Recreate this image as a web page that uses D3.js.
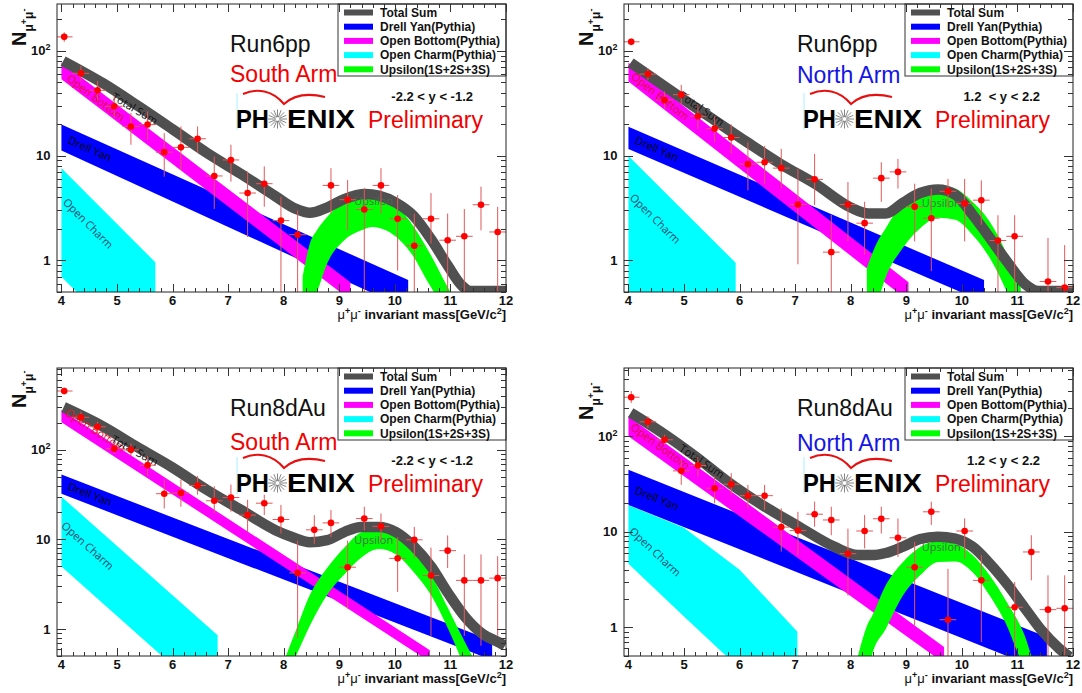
<!DOCTYPE html>
<html>
<head>
<meta charset="utf-8">
<script src="https://cdn.jsdelivr.net/npm/d3@7"></script>
<style>
  body { margin: 0; background: #fff; }
  svg text { font-family: "Liberation Sans", Arial, sans-serif; }
</style>
</head>
<body>
<svg id="chart" width="1082" height="693"></svg>
<script>
// ---- axis ticks / legend ----
var massTicks = [4, 5, 6, 7, 8, 9, 10, 11, 12];
var countTicks = [1, 10, 100];
var legendNames = ['Total Sum', 'Drell Yan(Pythia)', 'Open Bottom(Pythia)', 'Open Charm(Pythia)', 'Upsilon(1S+2S+3S)'];

// ---- Run6pp South arm ----  bands: [mass, low, high], total: [mass, value], points: [mass, value, errLow, errHigh]
var charm6S = [[4.0, 0.70, 7.6], [5.69, 0.088, 0.96]];
var dy6S = [[4.0, 11.2, 19.8], [10.24, 0.34, 0.65]];
var bottom6S = [[4.0, 53.5, 78], [9.2, 0.42, 0.62]];
var ups6S = [[8.34, 0.2, 0.7], [8.47, 0.36, 1.45], [8.6, 0.5, 1.95], [8.78, 0.93, 2.6], [9.09, 1.56, 3.76], [9.4, 1.94, 4.5], [9.6, 2.09, 4.6], [9.84, 1.94, 4.2], [10.09, 1.56, 3.1], [10.34, 1.08, 2.1], [10.58, 0.64, 1.3], [10.7, 0.5, 1.0], [10.85, 0.32, 0.7], [11.0, 0.22, 0.5]];
var total6S = [[4.03, 80], [4.75, 49], [5.37, 30], [5.99, 18], [6.61, 10.7], [7.23, 6.7], [7.85, 4.1], [8.22, 3.1], [8.47, 2.85], [8.78, 3.2], [9.09, 3.85], [9.47, 4.3], [9.71, 4.15], [10.02, 3.55], [10.34, 2.65], [10.65, 1.6], [10.96, 0.88], [11.2, 0.58], [11.36, 0.51], [12.0, 0.51]];
var points6S = [[4.05, 136, 122, 150], [4.35, 61, 51.5, 71.8], [4.65, 42, 34.4, 51.5], [4.95, 29.6, 23, 37], [5.25, 19, 12.7, 25.5], [5.55, 19.8, 14.2, 26.5], [5.85, 10.8, 6.3, 16.4], [6.15, 12, 7.3, 19], [6.45, 14.5, 10.6, 19], [6.75, 6.4, 3.1, 9.8], [7.05, 9.1, 5.65, 12.7], [7.35, 4.4, 1.67, 7.06], [7.65, 5.4, 3.25, 7.9], [7.95, 2.4, 0.4, 4.05], [8.25, 1.76, 0.4, 3.0], [8.85, 5.2, 2.8, 7.6], [9.15, 3.8, 1.94, 5.86], [9.45, 3.06, 0.4, 4.9], [9.75, 5.2, 2.8, 7.6], [10.05, 2.5, 0.8, 4.2], [10.35, 1.38, 0.4, 2.8], [10.65, 2.5, 1.45, 4.4], [10.95, 1.56, 0.4, 2.8], [11.25, 1.7, 0.4, 3.1], [11.55, 3.4, 1.94, 5.06], [11.85, 1.87, 0.4, 3.25]];

// ---- Run6pp North arm ----
var charm6N = [[4.0, 0.45, 9.9], [5.93, 0.045, 0.95]];
var dy6N = [[4.0, 11.6, 18.9], [10.4, 0.4, 0.65]];
var bottom6N = [[4.0, 51, 77], [9.04, 0.41, 0.62]];
var ups6N = [[8.29, 0.2, 0.85], [8.45, 0.35, 1.4], [8.63, 0.69, 2.03], [8.94, 1.32, 3.63], [9.25, 2.03, 4.85], [9.57, 2.56, 5.2], [9.88, 2.44, 4.85], [10.19, 1.76, 3.63], [10.5, 1.06, 2.35], [10.81, 0.5, 1.14], [10.95, 0.33, 0.75], [11.06, 0.25, 0.55]];
var total6N = [[4.04, 77], [4.89, 37.5], [5.51, 22.5], [6.13, 13.5], [6.76, 8.2], [7.38, 5.3], [8.0, 3.2], [8.32, 2.8], [8.63, 2.8], [8.94, 3.55], [9.25, 4.4], [9.57, 4.75], [9.88, 4.25], [10.19, 2.75], [10.5, 1.65], [10.81, 0.98], [11.13, 0.6], [11.38, 0.51], [12.0, 0.51]];
var points6N = [[4.05, 122, 113, 131], [4.35, 60, 52.9, 68], [4.65, 34, 28, 41], [4.95, 38.2, 30.7, 47.4], [5.25, 23.8, 17.9, 30.7], [5.55, 18.1, 13.4, 23.8], [5.85, 14.9, 10.4, 19.9], [6.15, 8.3, 4.67, 13.4], [6.45, 8.65, 5.4, 12.4], [6.75, 7.6, 4.85, 11.6], [7.05, 3.42, 0.92, 7.5], [7.35, 5.94, 3.38, 10.4], [7.65, 1.2, 0.4, 2.72], [7.95, 3.42, 1.52, 5.6], [8.25, 2.27, 1.14, 3.63], [8.55, 6.1, 3.63, 8.65], [8.85, 7.0, 4.85, 9.3], [9.15, 3.26, 1.52, 5.4], [9.45, 2.53, 0.79, 4.85], [9.75, 4.57, 3.14, 6.0], [10.05, 3.5, 1.52, 6.0], [10.35, 3.76, 2.19, 5.8], [10.65, 1.55, 0.4, 2.7], [10.95, 1.7, 0.4, 2.7], [11.55, 0.63, 0.4, 1.64], [11.85, 0.55, 0.4, 1.4]];

// ---- Run8dAu South arm ----
var charm8S = [[4.0, 5.0, 30], [6.81, 0.14, 0.85]];
var dy8S = [[4.0, 32.4, 53], [11.75, 0.45, 0.74]];
var bottom8S = [[4.0, 204, 278], [10.63, 0.43, 0.58]];
var ups8S = [[8.04, 0.3, 0.5], [8.22, 0.5, 0.97], [8.47, 1.09, 2.4], [8.78, 2.4, 4.8], [9.09, 4.05, 8.1], [9.4, 6.3, 12.0], [9.71, 7.8, 13.2], [10.02, 6.8, 11.1], [10.33, 4.4, 7.5], [10.65, 2.4, 4.05], [10.96, 1.0, 1.69], [11.17, 0.5, 0.92], [11.27, 0.35, 0.7], [11.39, 0.25, 0.5]];
var total8S = [[4.04, 300], [4.75, 182], [5.37, 107], [5.99, 64], [6.61, 36], [7.23, 21.4], [7.85, 12.7], [8.16, 10.6], [8.47, 9.3], [8.78, 9.8], [9.09, 12.1], [9.4, 13.8], [9.71, 13.8], [10.02, 12.1], [10.33, 8.5], [10.65, 5.0], [10.96, 2.5], [11.27, 1.35], [11.58, 0.88], [11.89, 0.7], [11.98, 0.65]];
var points8S = [[4.05, 454, 416, 495], [4.35, 231, 198, 268], [4.65, 181, 152, 206], [4.95, 103, 90, 117], [5.25, 100, 85, 118], [5.55, 67.5, 51, 86], [5.85, 32.4, 22.2, 46.7], [6.15, 33, 23.2, 46.7], [6.45, 40, 31.6, 51], [6.75, 27, 19.5, 39.3], [7.05, 29.4, 20.4, 41], [7.35, 18.7, 12.1, 27.7], [7.65, 25.4, 18.7, 31.6], [7.95, 16.7, 11.6, 24.3], [8.25, 4.23, 0.8, 9.7], [8.55, 12.8, 8.9, 18.7], [8.85, 15.3, 10.6, 21.3], [9.15, 4.9, 1.69, 9.7], [9.45, 17.1, 12.6, 23.2], [9.75, 14, 9.7, 19.5], [10.05, 6.15, 2.6, 10.6], [10.35, 9.9, 6.3, 13.8], [10.65, 3.95, 0.84, 8.1], [10.95, 7.5, 4.8, 11.1], [11.25, 3.49, 0.84, 6.8], [11.55, 3.49, 0.65, 6.8], [11.85, 3.7, 0.84, 6.5]];

// ---- Run8dAu North arm ----
var charm8N = [[4.0, 4.64, 19], [5.0, 1.3, 11], [6.0, 0.37, 4.0], [7.04, 0.1, 0.9]];
var dy8N = [[4.0, 19.1, 44.6], [11.53, 0.34, 0.79]];
var bottom8N = [[4.0, 100, 162], [9.68, 0.42, 0.62]];
var ups8N = [[8.13, 0.2, 0.5], [8.32, 0.35, 1.13], [8.38, 0.5, 1.3], [8.63, 0.96, 2.75], [8.94, 2.15, 4.83], [9.25, 3.5, 6.95], [9.57, 4.83, 7.95], [9.88, 4.9, 7.5], [10.19, 3.8, 5.7], [10.5, 2.15, 3.5], [10.81, 1.04, 1.83], [11.03, 0.5, 1.1], [11.13, 0.38, 0.82], [11.25, 0.28, 0.5]];
var total8N = [[4.04, 177], [4.57, 113], [5.2, 62], [5.82, 32.4], [6.45, 18.4], [7.07, 11.3], [7.7, 7.0], [8.13, 5.7], [8.38, 5.7], [8.63, 6.0], [8.94, 7.0], [9.25, 8.4], [9.57, 8.9], [9.88, 8.5], [10.19, 7.0], [10.5, 4.65], [10.81, 2.85], [11.13, 1.6], [11.44, 0.92], [11.75, 0.6], [11.94, 0.49]];
var points8N = [[4.05, 257, 224, 298], [4.35, 142, 122, 162], [4.65, 92, 81.7, 104], [4.95, 43.5, 31, 56.8], [5.25, 49.5, 37.9, 61.5], [5.55, 28.6, 19.9, 37.9], [5.85, 31.5, 24.3, 41.1], [6.15, 23.9, 17.6, 31], [6.45, 23.9, 16.9, 31], [6.75, 11.2, 6.2, 17.6], [7.05, 10.3, 5.7, 16.2], [7.35, 15.3, 11.3, 20.7], [7.65, 13.3, 9.2, 18.3], [7.95, 5.9, 2.15, 10.8], [8.25, 10.2, 6.7, 15], [8.55, 13.7, 9.6, 18.3], [8.85, 8.65, 5.45, 13.8], [9.15, 4.25, 1.04, 7.85], [9.45, 16.2, 11.8, 20.7], [9.75, 1.2, 0.4, 4.1], [10.05, 10.2, 5.24, 13.8], [10.35, 3.1, 0.7, 5.7], [10.95, 1.62, 0.4, 2.98], [11.25, 6.15, 3.1, 9.2], [11.55, 1.53, 0.4, 3.5], [11.85, 1.58, 0.4, 3.5]];

var colors = { total: '#505050', dy: '#0000ff', bottom: '#ff00ff', charm: '#00ffff', ups: '#00ff00' };
var legendColors = [colors.total, colors.dy, colors.bottom, colors.charm, colors.ups];

var panels = [
  { left: 57, top: 4, ymax: 280, run: 'Run6pp', arm: 'South Arm', armColor: '#f20000', armY: 78, rap: '-2.2 < y < -1.2', titleY: 42,
    charm: charm6S, dy: dy6S, bottom: bottom6S, ups: ups6S, total: total6S, points: points6S,
    tags: { ob: [4.62, 35.6], ts: [5.32, 28], dy: [4.51, 11.6], oc: [4.48, 2.25], up: [9.62, 3.68] } },
  { left: 624, top: 4, ymax: 280, run: 'Run6pp', arm: 'North Arm', armColor: '#1414e6', armY: 79, rap: '1.2  < y < 2.2', titleY: 42,
    charm: charm6N, dy: dy6N, bottom: bottom6N, ups: ups6N, total: total6N, points: points6N,
    tags: { ob: [4.57, 36.8], ts: [5.32, 28], dy: [4.51, 11.6], oc: [4.48, 2.5], up: [9.63, 3.5] } },
  { left: 57, top: 368, ymax: 820, run: 'Run8dAu', arm: 'South Arm', armColor: '#f20000', armY: 82, rap: '-2.2 < y < -1.2', titleY: 40,
    charm: charm8S, dy: dy8S, bottom: bottom8S, ups: ups8S, total: total8S, points: points8S,
    tags: { ob: [4.61, 166], ts: [5.32, 98], dy: [4.51, 32], oc: [4.47, 8.5], up: [9.62, 9.9] } },
  { left: 624, top: 368, ymax: 520, run: 'Run8dAu', arm: 'North Arm', armColor: '#1414e6', armY: 83, rap: '1.2 < y < 2.2', titleY: 52,
    charm: charm8N, dy: dy8N, bottom: bottom8N, ups: ups8N, total: total8N, points: points8N,
    tags: { ob: [4.57, 78.5], ts: [5.32, 54.6], dy: [4.51, 22.4], oc: [4.48, 6.15], up: [9.63, 6.95] } }
];

var W = 449, H = 288;
var svg = d3.select('#chart');

panels.forEach(drawPanel);

function drawPanel(p, i) {
  var g = svg.append('g').attr('transform', 'translate(' + p.left + ',' + p.top + ')');
  var x = d3.scaleLinear().domain([3.92, 12]).range([0, W]);
  var y = d3.scaleLog().domain([0.5, p.ymax]).range([H, 0]);

  var cid = 'clip' + i;
  g.append('clipPath').attr('id', cid).append('rect').attr('width', W).attr('height', H);
  var plot = g.append('g').attr('clip-path', 'url(#' + cid + ')');

  var area = d3.area().x(function(d) { return x(d[0]); }).y0(function(d) { return y(d[1]); }).y1(function(d) { return y(d[2]); });
  var smoothArea = d3.area().x(function(d) { return x(d[0]); }).y0(function(d) { return y(d[1]); }).y1(function(d) { return y(d[2]); }).curve(d3.curveMonotoneX);

  plot.append('path').datum(p.charm).attr('fill', colors.charm).attr('d', area);
  plot.append('path').datum(p.dy).attr('fill', colors.dy).attr('d', area);
  plot.append('path').datum(p.bottom).attr('fill', colors.bottom).attr('d', area);
  plot.append('path').datum(p.ups).attr('fill', colors.ups).attr('d', smoothArea);
  plot.append('path').datum(p.total)
    .attr('fill', 'none').attr('stroke', colors.total).attr('stroke-width', 10.5)
    .attr('d', d3.line().x(function(d) { return x(d[0]); }).y(function(d) { return y(d[1]); }).curve(d3.curveMonotoneX));

  // band names, rotated along each band
  function slope(a, b) { return Math.atan2(b[1] - a[1], b[0] - a[0]) * 180 / Math.PI; }
  function px(d, k) { return [x(d[0]), y(d[k])]; }
  var last = function(arr) { return arr[arr.length - 1]; };
  var tags = [
    { txt: 'Open Bottom', pos: p.tags.ob, ang: slope(px(p.bottom[0], 2), px(last(p.bottom), 2)), col: '#e0102a' },
    { txt: 'Total Sum', pos: p.tags.ts, ang: slope([x(p.total[0][0]), y(p.total[0][1])], [x(p.total[2][0]), y(p.total[2][1])]), col: '#111' },
    { txt: 'Drell Yan', pos: p.tags.dy, ang: slope(px(p.dy[0], 2), px(last(p.dy), 2)), col: '#000' },
    { txt: 'Open Charm', pos: p.tags.oc, ang: slope(px(p.charm[0], 1), px(last(p.charm), 1)), col: '#24476b' },
    { txt: 'Upsilon', pos: p.tags.up, ang: 0, col: '#4a6e4a' }
  ];
  tags.forEach(function(t) {
    plot.append('text')
      .attr('transform', 'translate(' + x(t.pos[0]) + ',' + y(t.pos[1]) + ') rotate(' + t.ang + ')')
      .attr('text-anchor', 'middle').attr('dy', '0.35em')
      .attr('font-size', 11).attr('fill', t.col)
      .style('font-family', '"Open Sans", "Liberation Sans", sans-serif')
      .text(t.txt);
  });

  // data points with error bars
  var pts = plot.append('g');
  pts.selectAll('line.v').data(p.points).enter().append('line')
    .attr('x1', function(d) { return x(d[0]); }).attr('x2', function(d) { return x(d[0]); })
    .attr('y1', function(d) { return y(d[2]); }).attr('y2', function(d) { return y(d[3]); })
    .attr('stroke', '#e2585a').attr('stroke-width', 1);
  pts.selectAll('line.h').data(p.points).enter().append('line')
    .attr('x1', function(d) { return x(d[0] - 0.15); }).attr('x2', function(d) { return x(d[0] + 0.15); })
    .attr('y1', function(d) { return y(d[1]); }).attr('y2', function(d) { return y(d[1]); })
    .attr('stroke', '#e2585a').attr('stroke-width', 1);
  pts.selectAll('circle').data(p.points).enter().append('circle')
    .attr('cx', function(d) { return x(d[0]); }).attr('cy', function(d) { return y(d[1]); })
    .attr('r', 3.3).attr('fill', '#ff0000');

  // legend
  var lg = g.append('g').attr('transform', 'translate(281,0)');
  lg.append('rect').attr('width', 168).attr('height', 72).attr('fill', '#fff').attr('stroke', '#333');
  legendNames.forEach(function(name, k) {
    var cy = 8.5 + k * 14.2;
    lg.append('line').attr('x1', 6).attr('x2', 35).attr('y1', cy).attr('y2', cy)
      .attr('stroke', legendColors[k]).attr('stroke-width', 6);
    lg.append('text').attr('x', 42).attr('y', cy).attr('dy', '0.36em')
      .attr('font-size', 12).attr('font-weight', 'bold').attr('fill', '#111').text(name);
  });

  // annotations
  g.append('text').attr('x', 173).attr('y', 48).attr('font-size', 23).attr('fill', '#111').text(p.run);
  g.append('text').attr('x', 173).attr('y', p.armY).attr('font-size', 23).attr('fill', p.armColor).text(p.arm);
  g.append('line').attr('x1', 180).attr('x2', 180).attr('y1', 89).attr('y2', 126).attr('stroke', '#aef').attr('stroke-width', 1);
  g.append('path').attr('d', 'M186,90 C200,84 215,86 227,100 C238,90 252,89 268,93')
    .attr('fill', 'none').attr('stroke', '#e61010').attr('stroke-width', 2);
  g.append('text').attr('x', 179).attr('y', 124).attr('font-size', 26).attr('font-weight', 'bold')
    .attr('textLength', 33).attr('lengthAdjust', 'spacingAndGlyphs').attr('fill', '#000').text('PH');
  var star = g.append('g').attr('transform', 'translate(220.5,115)');
  d3.range(16).forEach(function(k) {
    var a = k * Math.PI / 8;
    star.append('line').attr('x1', 2 * Math.cos(a)).attr('y1', 2 * Math.sin(a))
      .attr('x2', 9.5 * Math.cos(a)).attr('y2', 9.5 * Math.sin(a))
      .attr('stroke', '#777').attr('stroke-width', 0.9);
  });
  g.append('text').attr('x', 230).attr('y', 124).attr('font-size', 26).attr('font-weight', 'bold')
    .attr('textLength', 68).attr('lengthAdjust', 'spacingAndGlyphs').attr('fill', '#000').text('ENIX');
  g.append('text').attr('x', 311).attr('y', 124).attr('font-size', 23).attr('fill', '#f20000').text('Preliminary');
  g.append('text').attr('x', 416).attr('y', 97).attr('text-anchor', 'end').attr('font-size', 13)
    .attr('font-weight', 'bold').style('white-space', 'pre').attr('fill', '#111').text(p.rap);

  // frame and ticks (inside, on all sides)
  g.append('rect').attr('width', W).attr('height', H).attr('fill', 'none').attr('stroke', '#222').attr('stroke-width', 1);
  var tk = g.append('g').attr('stroke', '#333').attr('stroke-width', 1);
  d3.range(40, 121, 2).forEach(function(v10) {
    var v = v10 / 10, len = (v10 % 10 === 0) ? 8 : 4, xx = Math.round(x(v)) + 0.5;
    tk.append('line').attr('x1', xx).attr('x2', xx).attr('y1', H).attr('y2', H - len);
    tk.append('line').attr('x1', xx).attr('x2', xx).attr('y1', 0).attr('y2', len);
  });
  y.ticks().forEach(function(v) {
    var major = countTicks.indexOf(v) >= 0, len = major ? 9 : 5, yy = Math.round(y(v)) + 0.5;
    tk.append('line').attr('x1', 0).attr('x2', len).attr('y1', yy).attr('y2', yy);
    tk.append('line').attr('x1', W).attr('x2', W - len).attr('y1', yy).attr('y2', yy);
  });

  // tick labels
  massTicks.forEach(function(v) {
    g.append('text').attr('x', x(v)).attr('y', H + 12.5).attr('text-anchor', 'middle')
      .attr('font-size', 13).attr('font-weight', 'bold').attr('fill', '#111').text(v);
  });
  countTicks.forEach(function(v) {
    var t = g.append('text').attr('x', -6.5).attr('y', y(v) + 4.5).attr('text-anchor', 'end')
      .attr('font-size', 13).attr('font-weight', 'bold').attr('fill', '#111');
    if (v === 100) {
      t.append('tspan').text('10');
      t.append('tspan').attr('font-size', 9).attr('dy', -5).text('2');
    } else {
      t.text(v);
    }
  });

  // axis titles
  var xt = g.append('text').attr('x', W).attr('y', H + 27).attr('text-anchor', 'end')
    .attr('font-size', 13).attr('font-weight', 'bold').attr('fill', '#111');
  xt.append('tspan').attr('font-weight', 'normal').text('μ');
  xt.append('tspan').attr('font-size', 9).attr('dy', -5).text('+');
  xt.append('tspan').attr('font-weight', 'normal').attr('dy', 5).text('μ');
  xt.append('tspan').attr('font-size', 9).attr('dy', -5).text('-');
  xt.append('tspan').attr('dy', 5).text(' invariant mass[GeV/c');
  xt.append('tspan').attr('font-size', 9).attr('dy', -5).text('2');
  xt.append('tspan').attr('dy', 5).text(']');

  var yt = g.append('text').attr('transform', 'translate(-31,' + p.titleY + ') rotate(-90)')
    .attr('font-size', 20).attr('font-weight', 'bold').attr('fill', '#111');
  yt.append('tspan').text('N');
  yt.append('tspan').attr('font-size', 12).attr('dy', 7).text('μ');
  yt.append('tspan').attr('font-size', 9).attr('dy', -6).text('+');
  yt.append('tspan').attr('font-size', 12).attr('dy', 6).text('μ');
  yt.append('tspan').attr('font-size', 9).attr('dy', -6).text('-');
}
</script>
</body>
</html>
